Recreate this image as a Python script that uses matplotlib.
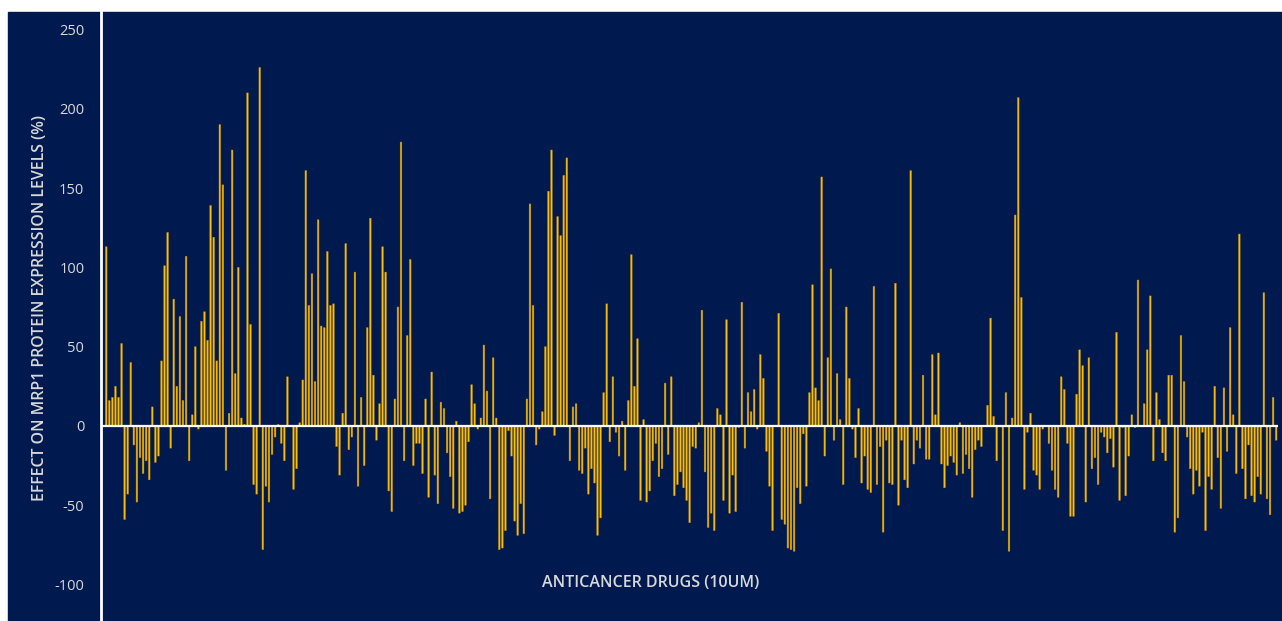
import matplotlib
matplotlib.use("Agg")
import matplotlib.pyplot as plt
import numpy as np

plt.rcParams["axes.unicode_minus"] = False

# effect of each anticancer drug (10 uM) on MRP1 protein expression, % change
effect_part1 = [113, 16, 18, 25, 18, 52, -59, -43, 40, -12, -48, -20, -30, -22, -34, 12, -23, -19, 41, 101,
                122, -14, 80, 25, 69, 16, 107, -22, 7, 50, -2, 66, 72, 54, 139, 119, 41, 190, 152, -28,
                8, 174, 33, 100, 5, 1, 210, 64, -37, -43, 226]
effect_part2 = [-78, -38, -48, -18, -7, 1, -11, -22, 31, 0, -40, -27, 2, 29, 161, 76, 96, 28, 130, 63,
                62, 110, 76, 77, -13, -31, 8, 115, -15, -7, 97, -38, 18, -25, 62, 131, 32, -9, 14, 113,
                97, -41, -54, 17, 75, 179, -22, 57, 105, -25, -11, -11, -30, 17, -45, 34, -31, -49, 15, 11,
                -17]
effect_part3 = [-32, -52, 3, -55, -54, -50, -10, 26, 14, -2, 5, 51, 22, -46, 43, 5, -78, -77, -66, -3,
                -19, -60, -69, -49, -68, 17, 140, 76, -12, -2, 9, 50, 148, 174, -6, 132, 120, 158, 169, -22,
                12, 14, -28, -30, -14, -43, -27, -36, -69, -58, 21, 77, -10, 31, -4, -19]
effect_part4 = [3, -28, 16, 108, 25, 55, -47, 4, -48, -41, -22, -11, -32, -27, 27, -18, 31, -44, -37, -29,
                -39, -47, -61, -13, -14, 2, 73, -29, -64, -55, -66, 11, 7, -47, 67, -55, -31, -54, -1, 78,
                -14, 21, 9, 23, -2, 45, 30, -16, -38, -66, 0, 71, -59, -62, -77]
effect_part5 = [-78, -79, -39, -49, -5, -38, 21, 89, 24, 16, 157, -19, 43, 99, -9, 33, 4, -37, 75, 30,
                -2, -20, 11, -36, -19, -40, -42, 88, -37, -13, -67, -9, -36, -37, 90, -50, -9, -34, -39, 161,
                -24, -9, -14, 32, -21, -21, 45, 7, 46, -24, -39, -25, -19, -23, -31, 2]
effect_part6 = [-30, -18, -27, -45, -15, -9, -13, 0, 13, 68, 6, -22, 0, -66, 21, -79, 5, 133, 207, 81,
                -40, -4, 8, -28, -31, -40, -2, 0, -11, -28, -40, -45, 31, 23, -11, -57, -57, 20, 48, 38,
                -48, 43, -27, -20, -37, -4, -7, -17, -8, -26, 59, -47, -1, -44, -19, 7]
effect_part7 = [-1, 92, 0, 14, 48, 82, -22, 21, 4, -17, -22, 32, 32, -67, -58, 57, 28, -7, -27, -43,
                -28, -38, -4, -66, -32, -40, 25, -20, -52, 24, -16, 62, 7, -30, 121, -27, -46, -12, -44, -48,
                -32, -43, 84, -46, -56, 18, -9]

effects = (effect_part1 + effect_part2 + effect_part3 + effect_part4
           + effect_part5 + effect_part6 + effect_part7)
y_ticks = [-100, -50, 0, 50, 100, 150, 200, 250]

navy = "#001A4F"
gold = "#FFC000"
text_col = "#D9D9D9"

W, H = 1282, 621
fig = plt.figure(figsize=(W / 100, H / 100), dpi=100)
fig.patch.set_facecolor("white")
# navy chart area (white strip on top and left like the reference)
bg = plt.Rectangle((8 / W, 0), 1 - 8 / W, (H - 12) / H,
                   transform=fig.transFigure, color=navy, zorder=-10)
fig.patches.append(bg)

ax = fig.add_axes([101 / W, 0, (1278 - 101) / W, (H - 12) / H])
ax.set_zorder(1)
ax.set_facecolor(navy)

x = np.arange(len(effects))
bars = ax.bar(x, effects, width=0.55, color=gold, edgecolor="#B8860B", linewidth=0.3, zorder=2)
for b in bars:
    b.set_snap(False)
ax.axhline(0, color="white", linewidth=1.6, zorder=3)

ax.set_xlim(-1.7, len(effects) - 0.4)
ax.set_ylim(-123, 261)
ax.set_yticks(y_ticks)
ax.set_xticks([])
ax.tick_params(axis="y", length=0, pad=12, labelsize=10.5, labelcolor=text_col)
for lab in ax.get_yticklabels():
    lab.set_family("Open Sans")

for s in ["top", "right", "bottom"]:
    ax.spines[s].set_visible(False)
ax.spines["left"].set_color("white")
ax.spines["left"].set_linewidth(2)

fig.text(40 / W, 1 - 308 / H, "EFFECT ON MRP1 PROTEIN EXPRESSION LEVELS (%)",
         rotation=90, ha="center", va="center", color=text_col,
         fontsize=11.4, fontweight="semibold", family="Open Sans", zorder=5)
fig.text(651 / W, 1 - 583 / H, "ANTICANCER DRUGS (10UM)",
         ha="center", va="center", color=text_col,
         fontsize=11.5, fontweight="semibold", family="Open Sans", zorder=5)

fig.savefig("out.png", dpi=100, facecolor=fig.get_facecolor())
